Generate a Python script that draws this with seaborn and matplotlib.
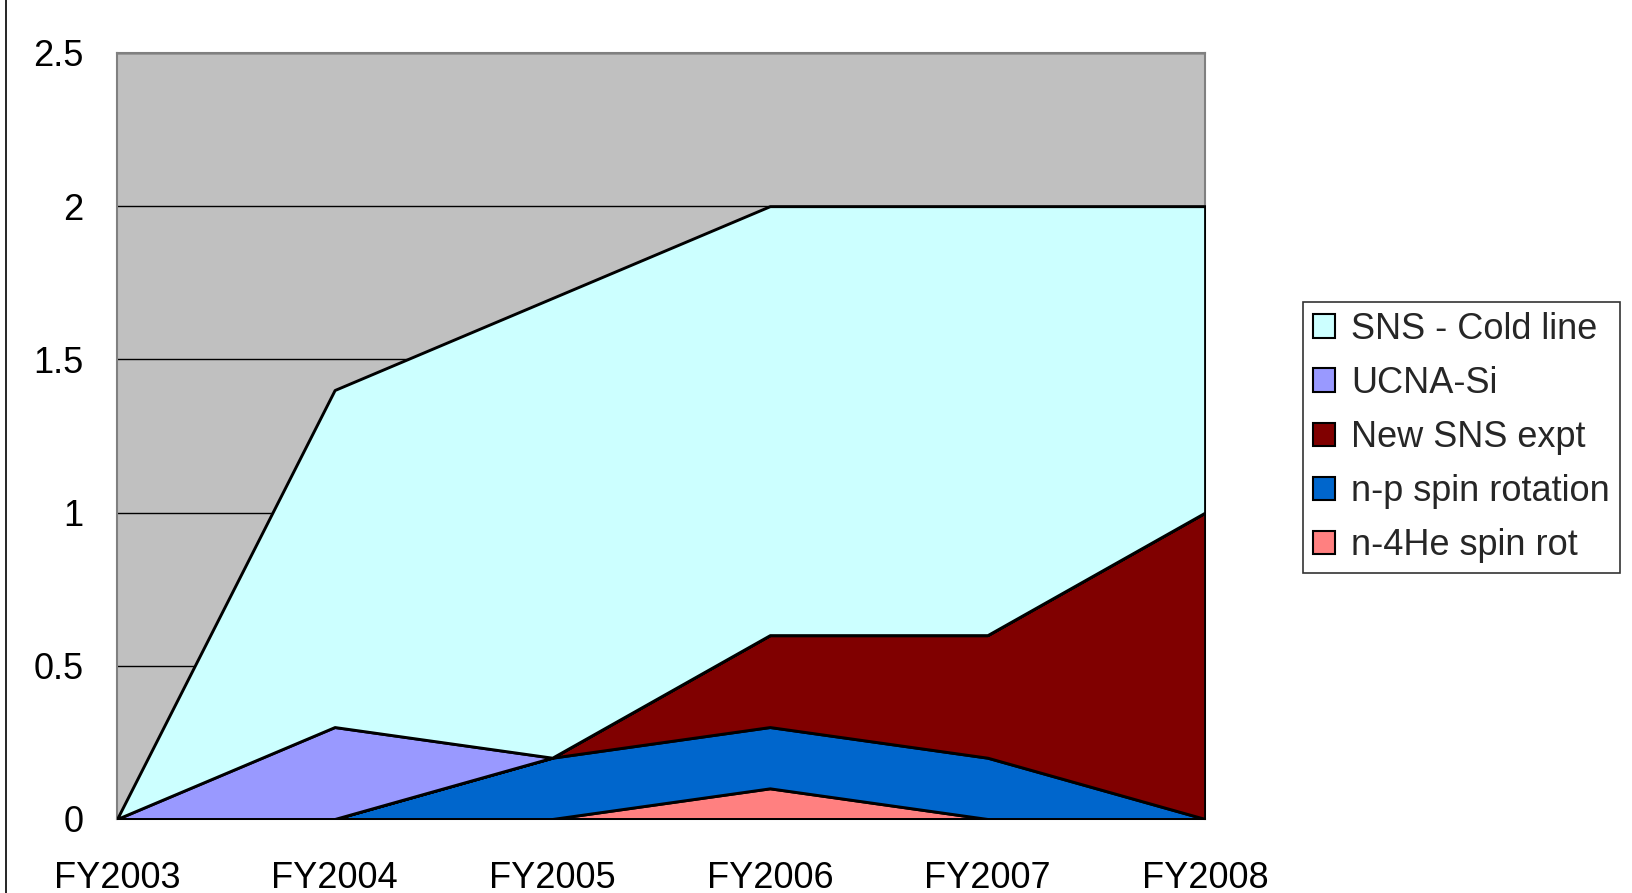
import matplotlib
matplotlib.use("Agg")
import matplotlib.pyplot as plt
import seaborn as sns
from matplotlib.patches import Patch
from matplotlib.lines import Line2D

# data, bottom layer first
years = ["FY2003", "FY2004", "FY2005", "FY2006", "FY2007", "FY2008"]
n4he_spin_rot = [0, 0, 0, 0.1, 0, 0]
np_spin_rotation = [0, 0, 0.2, 0.2, 0.2, 0]
new_sns_expt = [0, 0, 0, 0.3, 0.4, 1.0]
ucna_si = [0, 0.3, 0, 0, 0, 0]
sns_cold_line = [0, 1.1, 1.5, 1.4, 1.4, 1.0]

labels = ["n-4He spin rot", "n-p spin rotation", "New SNS expt", "UCNA-Si", "SNS - Cold line"]
colors = ["#FF8080", "#0066CC", "#800000", "#9999FF", "#CCFFFF"]

sns.set_theme(style="white")
plt.rcParams["font.family"] = ["Liberation Sans", "DejaVu Sans"]

fig = plt.figure(figsize=(16.32, 8.93), dpi=100)
ax = fig.add_axes([0.0717, 0.0829, 0.6667, 0.8578])
ax.set_facecolor("#C0C0C0")

x = list(range(len(years)))
ax.stackplot(x, n4he_spin_rot, np_spin_rotation, new_sns_expt, ucna_si, sns_cold_line,
             colors=colors, edgecolor="black", linewidth=2.1, zorder=3)

ax.set_xlim(0, len(years) - 1)
ax.set_ylim(0, 2.5)
ax.set_yticks([0, 0.5, 1, 1.5, 2, 2.5])
ax.set_yticklabels(["0", "0.5", "1", "1.5", "2", "2.5"])
ax.set_xticks(x)
ax.set_xticklabels(years)
ax.yaxis.grid(True, color="black", linewidth=1.0, zorder=1)
ax.set_axisbelow(True)

ax.tick_params(axis="both", which="both", labelsize=26, labelcolor="black",
               color="#555555", direction="out", length=8.6, width=1.0)
ax.tick_params(axis="y", pad=15.5)
ax.tick_params(axis="x", pad=21.5)
for s in ax.spines.values():
    s.set_color("#808080")
    s.set_linewidth(1.5)

handles = [Patch(facecolor=c, edgecolor="black", linewidth=1.5, label=l)
           for c, l in zip(colors, labels)][::-1]
leg = fig.legend(handles=handles, loc="upper left", bbox_to_anchor=(0.7984, 0.6618),
                 fontsize=26, frameon=True, fancybox=False, borderpad=0.27,
                 borderaxespad=0, labelspacing=0.53, handlelength=0.62,
                 handleheight=0.62, handletextpad=0.44)
leg.get_frame().set_edgecolor("black")
leg.get_frame().set_linewidth(1.2)

# left border of the chart frame
fig.add_artist(Line2D([0.0037, 0.0037], [0, 1], transform=fig.transFigure,
                      color="black", linewidth=1.2))

fig.savefig("out.png", dpi=100)
